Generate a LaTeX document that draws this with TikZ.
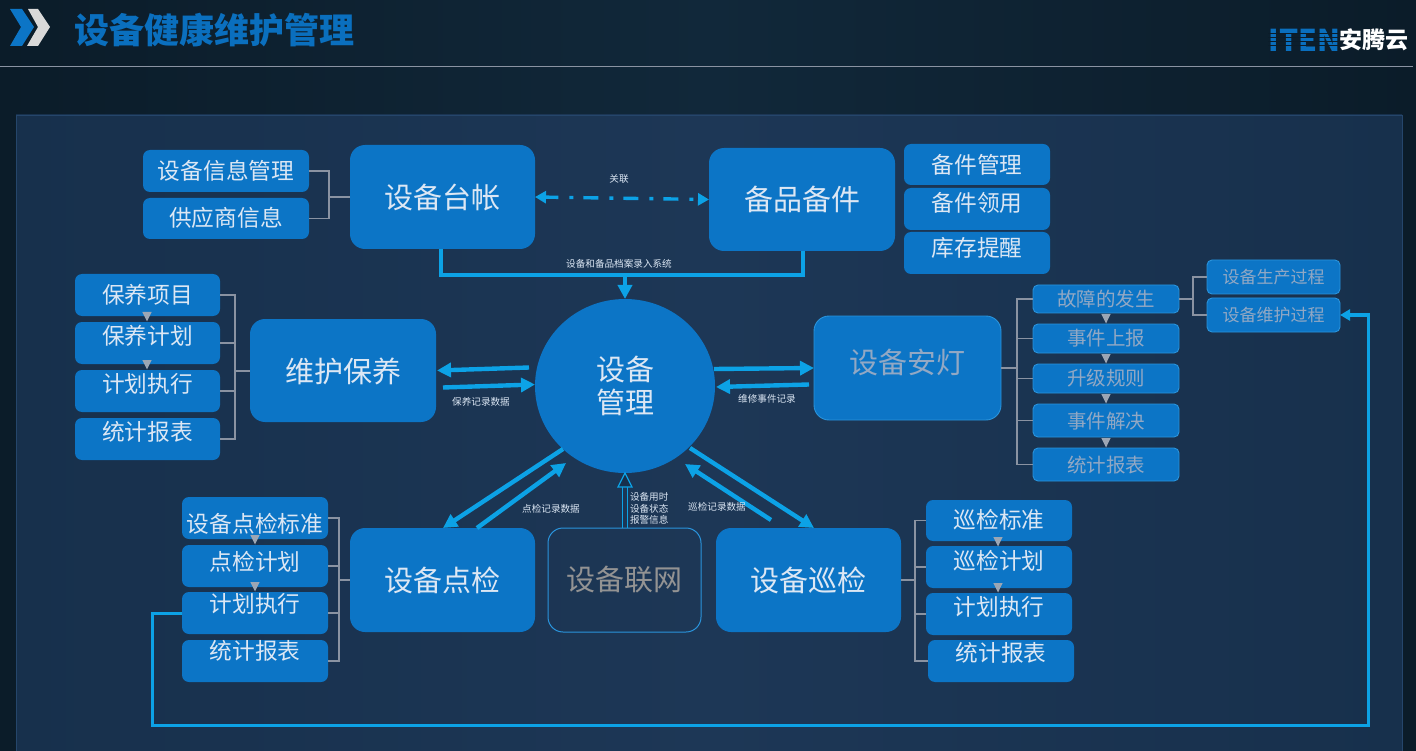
\documentclass[tikz,border=0pt]{standalone}
\usepackage{fontspec}
\setmainfont{Noto Sans CJK SC}
\usetikzlibrary{arrows.meta,calc,shapes.geometric}
\definecolor{boxblue}{HTML}{0C75C6}
\definecolor{flowblue}{HTML}{0CA2E6}
\definecolor{edgeblue}{HTML}{2A94DC}
\definecolor{txtlight}{HTML}{DCE7F4}
\definecolor{txtgray}{HTML}{92A8C4}
\definecolor{busgray}{HTML}{8A93A2}
\definecolor{triagray}{HTML}{9CA6B4}
\definecolor{bgdark}{HTML}{0B1C29}
\definecolor{bgmid}{HTML}{11283A}
\definecolor{panelA}{HTML}{17304C}
\definecolor{panelB}{HTML}{1D3756}
\definecolor{panelEdge}{HTML}{25466B}
\definecolor{titleblue}{HTML}{0A6FBE}
\tikzset{
  x=1pt,y=-1pt,
  box/.style={fill=boxblue,rounded corners=7pt,inner sep=0pt,outer sep=0pt},
  bigbox/.style={box,rounded corners=15pt},
  ebox/.style={box,draw=edgeblue,line width=0.9pt,rounded corners=5pt},
  txt/.style={inner sep=0pt,outer sep=0pt,text=txtlight},
  bus/.style={draw=busgray,line width=1.1pt},
  flow/.style={draw=flowblue,line width=4.4pt,-{Triangle[length=14pt,width=14pt]}},
  thinflow/.style={draw=flowblue,line width=3pt,-{Triangle[length=10pt,width=11pt]}},
  wire/.style={draw=flowblue,line width=3pt},
  small/.style={txt,font=\fontsize{9.6}{12}\selectfont},
}
% name, x0, y0, x1, y1, style, font size, text y, text colour, text
\newcommand{\bx}[9]{%
  \node[#6,minimum width={(#4-#2)*1pt},minimum height={(#5-#3)*1pt}] (#1) at ({(#2+#4)/2},{(#3+#5)/2}) {};
  \node[txt,text=#9,font=\fontsize{#7}{#7}\selectfont] (#1t) at ({(#2+#4)/2},#8) {\bxtext};}
\newcommand{\tri}[2]{\fill[triagray] (#1-4.7,#2) -- (#1+4.7,#2) -- (#1,#2+9.5) -- cycle;}
\begin{document}
\begin{tikzpicture}
\useasboundingbox (0,0) rectangle (1416,751);
\clip (0,0) rectangle (1416,751);
% background
\path[left color=bgdark,right color=bgmid] (0,0) rectangle (708,751);
\path[left color=bgmid,right color=bgdark] (708,0) rectangle (1416,751);
\draw[draw=busgray,line width=0.9pt] (0,66) -- (1413,66);
\path[left color=panelA,right color=panelB,draw=none] (16,115) rectangle (709,760);
\path[left color=panelB,right color=panelA,draw=none] (709,115) rectangle (1402,760);
\draw[color=panelEdge,line width=0.8pt] (16,760) -- (16,115) -- (1402,115) -- (1402,760);
% header
\fill[boxblue] (10,9) -- (22,9) -- (34,27) -- (22,46) -- (10,46) -- (21,27) -- cycle;
\fill[gray!30] (28,9) -- (38,9) -- (50,27) -- (38,46) -- (27,46) -- (38,27) -- cycle;
\node[txt,text=titleblue,font=\fontsize{35}{35}\selectfont\bfseries] (title) at (214.5,30) {设备健康维护管理};
\node[txt,text=titleblue,font=\fontsize{30}{30}\selectfont\bfseries,xscale=1.0] (iten) at (1304.5,40) {ITEN};
\foreach \sy in {33,37,41,45}{\draw[draw=bgdark,line width=0.6pt] (1268,\sy) -- (1338,\sy);}
\node[txt,text=white,font=\fontsize{23}{23}\selectfont\bfseries] (brand) at (1373.5,40) {安腾云};
% main boxes
\def\bxtext{设备台帐}\bx{tz}{350}{145}{535}{249}{bigbox}{29}{197}{txtlight}
\def\bxtext{备品备件}\bx{bp}{709}{148}{895}{251}{bigbox}{29}{199}{txtlight}
\def\bxtext{维护保养}\bx{wh}{250}{319}{436}{422}{bigbox}{29}{371}{txtlight}
\def\bxtext{设备安灯}\bx{ad}{814}{316}{1001}{420}{bigbox,draw=edgeblue,line width=0.9pt}{29}{362}{txtgray}
\def\bxtext{设备点检}\bx{dj}{350}{528}{535}{632}{bigbox}{29}{580}{txtlight}
\def\bxtext{设备巡检}\bx{xj}{716}{528}{901}{632}{bigbox}{29}{580}{txtlight}
\def\bxtext{设备联网}\bx{lw}{548}{528}{701}{632}{bigbox,fill=none,draw=edgeblue,line width=1pt}{29}{580}{gray!85!white}
\node[ellipse,fill=boxblue,minimum width=180pt,minimum height=174pt,inner sep=0pt,outer sep=0pt] (mgmt) at (625,386) {};
\node[txt,align=center,font=\fontsize{29}{33}\selectfont] (mgmtt) at (625,386) {设备\\管理};
% top-left
\def\bxtext{设备信息管理}\bx{a1}{143}{150}{309}{192}{box}{22.7}{171}{txtlight}
\def\bxtext{供应商信息}\bx{a2}{143}{198}{309}{239}{box}{22.7}{218}{txtlight}
% top-right
\def\bxtext{备件管理}\bx{b1}{904}{144}{1050}{185}{box}{22.7}{165}{txtlight}
\def\bxtext{备件领用}\bx{b2}{904}{188}{1050}{230}{box}{22.7}{203}{txtlight}
\def\bxtext{库存提醒}\bx{b3}{904}{232}{1050}{274}{box}{22.7}{248}{txtlight}
% maintenance list
\def\bxtext{保养项目}\bx{c1}{75}{274}{220}{316}{box}{22.7}{295}{txtlight}
\def\bxtext{保养计划}\bx{c2}{75}{322}{220}{364}{box}{22.7}{336}{txtlight}
\def\bxtext{计划执行}\bx{c3}{75}{370}{220}{412}{box}{22.7}{384}{txtlight}
\def\bxtext{统计报表}\bx{c4}{75}{418}{220}{460}{box}{22.7}{432}{txtlight}
% spot-check list
\def\bxtext{设备点检标准}\bx{d1}{182}{497}{328}{539}{box}{22.7}{524}{txtlight}
\def\bxtext{点检计划}\bx{d2}{182}{545}{328}{587}{box}{22.7}{562}{txtlight}
\def\bxtext{计划执行}\bx{d3}{182}{592}{328}{634}{box}{22.7}{604}{txtlight}
\def\bxtext{统计报表}\bx{d4}{182}{640}{328}{682}{box}{22.7}{651}{txtlight}
% patrol list
\def\bxtext{巡检标准}\bx{e1}{926}{500}{1072}{541}{box}{22.7}{520}{txtlight}
\def\bxtext{巡检计划}\bx{e2}{926}{546}{1072}{588}{box}{22.7}{561}{txtlight}
\def\bxtext{计划执行}\bx{e3}{926}{593}{1072}{635}{box}{22.7}{607}{txtlight}
\def\bxtext{统计报表}\bx{e4}{928}{640}{1074}{682}{box}{22.7}{653}{txtlight}
% andon list
\def\bxtext{故障的发生}\bx{f1}{1033}{285}{1179}{313}{ebox}{19.5}{299}{txtgray}
\def\bxtext{事件上报}\bx{f2}{1033}{324}{1179}{353}{ebox}{19.5}{338}{txtgray}
\def\bxtext{升级规则}\bx{f3}{1033}{364}{1179}{393}{ebox}{19.5}{378}{txtgray}
\def\bxtext{事件解决}\bx{f4}{1033}{404}{1179}{437}{ebox}{19.5}{421}{txtgray}
\def\bxtext{统计报表}\bx{f5}{1033}{448}{1179}{481}{ebox}{19.5}{465}{txtgray}
\def\bxtext{设备生产过程}\bx{g1}{1207}{260}{1340}{294}{ebox}{17}{277}{txtgray}
\def\bxtext{设备维护过程}\bx{g2}{1207}{298}{1340}{332}{ebox}{17}{315}{txtgray}
% brackets
\coordinate (busa) at (329,197);
\draw[bus] (a1.east) -| (busa) (a2.east) -| (busa) (busa) -- (tz.west |- busa);
\coordinate (busc) at (235,371);
\foreach \n in {c1,c2,c3,c4}{\draw[bus] (\n.east) -| (busc);}
\draw[bus] (busc) -- (wh.west |- busc);
\coordinate (busd) at (339,580);
\foreach \n in {d1,d2,d3,d4}{\draw[bus] (\n.east) -| (busd);}
\draw[bus] (busd) -- (dj.west |- busd);
\coordinate (buse) at (915,580);
\foreach \n in {e1,e2,e3,e4}{\draw[bus] (\n.west) -| (buse);}
\draw[bus] (buse) -- (xj.east |- buse);
\coordinate (busf) at (1017,368);
\foreach \n in {f1,f2,f3,f4,f5}{\draw[bus] (\n.west) -| (busf);}
\draw[bus] (busf) -- (ad.east |- busf);
\coordinate (busg) at (1193,299);
\draw[bus] (f1.east) -- (busg) (g1.west) -| (busg) (g2.west) -| (busg);
% step triangles
\tri{147}{312}\tri{147}{360}
\tri{255}{535}\tri{255}{582}
\tri{998}{537}\tri{998}{583}
\tri{1106}{314}\tri{1106}{354}\tri{1106}{394}\tri{1106}{438}
% top connectors
\coordinate (ubar) at (625,275);
\draw[wire,line width=4.4pt,line join=miter] (tz.south -| 441,0) -- (441,275) -- (803,275) -- (bp.south -| 803,0);
\draw[flow] (ubar) -- (mgmt.north);
\draw[draw=flowblue,line width=3.4pt,dash pattern=on 15pt off 11pt on 4pt off 10pt,dash phase=2pt,{Triangle[length=11pt,width=12pt]}-{Triangle[length=11pt,width=12pt]}] (tz.east |- 0,197) -- (bp.west |- 0,199.5);
% circle flows
\draw[flow] ($(mgmt.center)+(-96,-18.5)$) -- ($(wh.east)+(1,0)$);
\draw[flow] ($(wh.east)+(7,17)$) -- ($(mgmt.center)+(-90,-1.5)$);
\draw[flow] ($(mgmt.center)+(89,-17)$) -- ($(ad.west)+(0,0)$);
\draw[flow] ($(ad.west)+(-5,16.5)$) -- ($(mgmt.center)+(91,1)$);
\draw[flow] ($(mgmt.center)+(-62,63)$) -- ($(dj.north west)+(93,0)$);
\draw[flow] ($(dj.north west)+(127,0)$) -- ($(mgmt.center)+(-59,77)$);
\draw[flow] ($(mgmt.center)+(65,62)$) -- ($(xj.north west)+(98,0)$);
\draw[flow] ($(xj.north west)+(55,-8)$) -- ($(mgmt.center)+(60,78)$);
% hollow arrow
\draw[draw=flowblue,line width=1.2pt] (622.5,528) -- (622.5,485) (627.5,528) -- (627.5,485);
\draw[draw=flowblue,line width=1.2pt,fill=panelA] (618,487) -- (632,487) -- (625,473) -- cycle;
% long feedback line
\draw[wire,line join=miter] (d3.west) -- (152,613) -- (152,725) -- (1368,725) -- (1368,315) -- (1352,315);
\draw[thinflow] (1352,315) -- (g2.east);
% labels
\node[small] (l1) at (619,179) {关联};
\node[small] (l2) at (619,264) {设备和备品档案录入系统};
\node[small] (l3) at (481,402) {保养记录数据};
\node[small] (l4) at (767,399) {维修事件记录};
\node[small] (l5) at (551,509) {点检记录数据};
\node[small] (l6) at (717,507) {巡检记录数据};
\node[small,anchor=west] (l7) at (630,497) {设备用时};
\node[small,anchor=west] (l8) at (630,509) {设备状态};
\node[small,anchor=west] (l9) at (630,520) {报警信息};
\end{tikzpicture}
\end{document}
